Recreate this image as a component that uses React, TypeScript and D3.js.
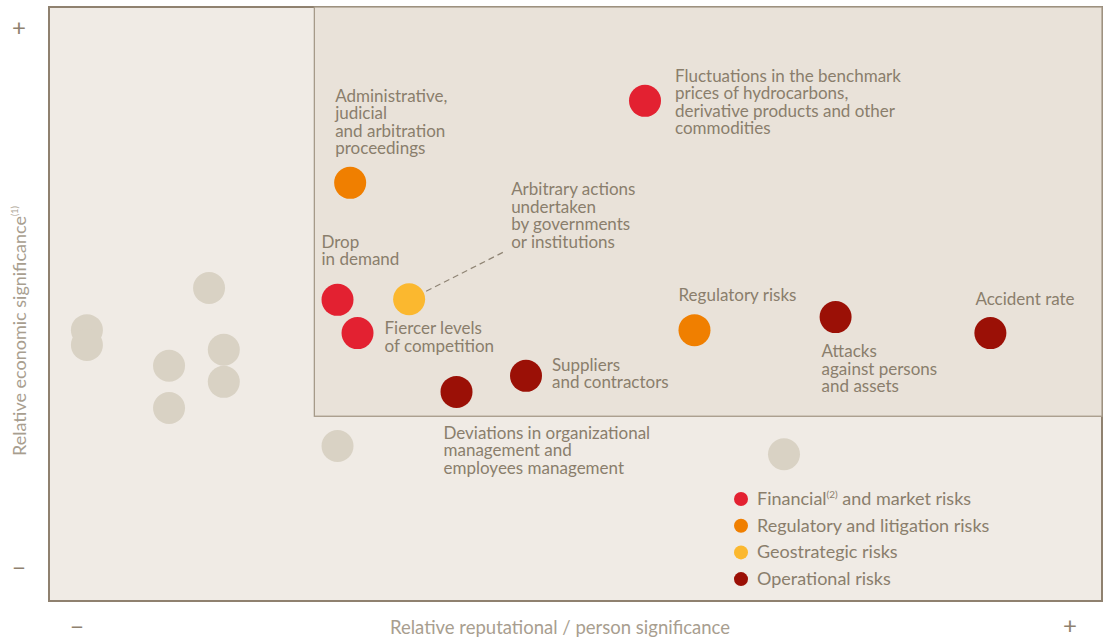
import React from 'react';
import * as d3 from 'd3';

// scatter of risks: x = reputational significance, y = economic significance (0..100)
const riskNames = [
  'Fluctuations in the benchmark|prices of hydrocarbons,|derivative products and other|commodities',
  'Administrative,|judicial|and arbitration|proceedings',
  'Arbitrary actions|undertaken|by governments|or institutions',
  'Drop|in demand',
  'Fiercer levels|of competition',
  'Suppliers|and contractors',
  'Regulatory risks',
  'Accident rate',
  'Attacks|against persons|and assets',
  'Deviations in organizational|management and|employees management',
];
const riskX = [56.6, 28.6, 34.2, 27.4, 29.3, 45.3, 61.3, 89.4, 74.7, 38.7];
const riskY = [84.2, 70.4, 50.8, 50.7, 45.1, 37.9, 45.6, 45.1, 47.8, 35.2];
const riskType = ['fin', 'reg', 'geo', 'fin', 'fin', 'op', 'reg', 'op', 'op', 'op'];
// label offset from the dot, px (first line centre)
const labelDx = [30, -15, 102, -16, 27, 26, -16, -15, -14, -13];
const labelDy = [-25, -87, -110, -58, -5, -11, -35, -34, 34, 41];

// other (unlabelled) risks, in grey
const otherX = [3.6, 3.6, 15.2, 11.4, 16.6, 16.6, 11.4, 27.4, 69.8];
const otherY = [45.6, 43.1, 52.7, 39.6, 42.3, 36.9, 32.5, 26.1, 24.7];

const categories = ['fin', 'reg', 'geo', 'op'];
const categoryLabels = ['Financial', 'Regulatory and litigation risks', 'Geostrategic risks', 'Operational risks'];
const categoryColors = ['#e32131', '#f07f00', '#fbb82f', '#9b1006'];

// threshold of the highlighted area
const areaX = 25.2;
const areaY = 31.1;

const W = 1108;
const H = 640;
const font = 'Lato, "Open Sans", sans-serif';
const textColor = '#8a7e6c';

export default function App() {
  const x = d3.scaleLinear().domain([0, 100]).range([49, 1102]);
  const y = d3.scaleLinear().domain([0, 100]).range([601, 7]);
  const color = d3.scaleOrdinal<string, string>().domain(categories).range(categoryColors);
  const r = 16;
  const lh = 17.5;

  return (
    <svg width={W} height={H} style={{ position: 'absolute', left: 0, top: 0 }} fontFamily={font}>
      <rect x={x(0)} y={y(100)} width={x(100) - x(0)} height={y(0) - y(100)} fill="#f0ebe5" stroke="#8f816f" strokeWidth={2} />
      <rect x={x(areaX)} y={y(100)} width={x(100) - x(areaX)} height={y(areaY) - y(100)} fill="#e9e2d9" stroke="#a69a89" strokeWidth={1.3} />

      {otherX.map((d, i) => (
        <circle key={'o' + i} cx={x(d)} cy={y(otherY[i])} r={r} fill="#d9d2c4" />
      ))}

      {/* leader for the geostrategic label */}
      <line
        x1={x(riskX[2]) + 17} y1={y(riskY[2]) - 8}
        x2={x(riskX[2]) + 94} y2={y(riskY[2]) - 47}
        stroke="#8f8474" strokeWidth={1.2} strokeDasharray="6,4"
      />

      {riskX.map((d, i) => (
        <circle key={'r' + i} cx={x(d)} cy={y(riskY[i])} r={r} fill={color(riskType[i])} />
      ))}

      {riskNames.map((name, i) => (
        <text key={'t' + i} x={x(riskX[i]) + labelDx[i]} y={y(riskY[i]) + labelDy[i]} fontSize={17} fill={textColor}>
          {name.split('|').map((line, j) => (
            <tspan key={j} x={x(riskX[i]) + labelDx[i]} y={y(riskY[i]) + labelDy[i] + j * lh} dy="0.35em">{line}</tspan>
          ))}
        </text>
      ))}

      {/* legend */}
      {categories.map((c, i) => (
        <g key={'l' + c} transform={`translate(741, ${499 + i * 26.7})`}>
          <circle r={7} fill={color(c)} />
          <text x={16} y={6} fontSize={18} fill={textColor}>
            {categoryLabels[i]}
            {i === 0 && <tspan fontSize={10} y={-1}>(2)</tspan>}
            {i === 0 && <tspan y={6}> and market risks</tspan>}
          </text>
        </g>
      ))}

      {/* axis ends */}
      <text x={19} y={28} dy="0.35em" textAnchor="middle" fontSize={24} fill="#8f816f">+</text>
      <text x={19} y={568} dy="0.35em" textAnchor="middle" fontSize={24} fill="#8f816f">−</text>
      <text x={77} y={627} dy="0.35em" textAnchor="middle" fontSize={24} fill="#8f816f">−</text>
      <text x={1070} y={626} dy="0.35em" textAnchor="middle" fontSize={24} fill="#8f816f">+</text>

      <text x={560} y={628} dy="0.35em" textAnchor="middle" fontSize={18.5} fill="#a89e8f">
        Relative reputational / person significance
      </text>
      <text transform="translate(20, 331) rotate(-90)" dy="0.35em" textAnchor="middle" fontSize={18} fill="#a89e8f">
        Relative economic significance<tspan fontSize={9} dy="-0.9em">(1)</tspan>
      </text>
    </svg>
  );
}
